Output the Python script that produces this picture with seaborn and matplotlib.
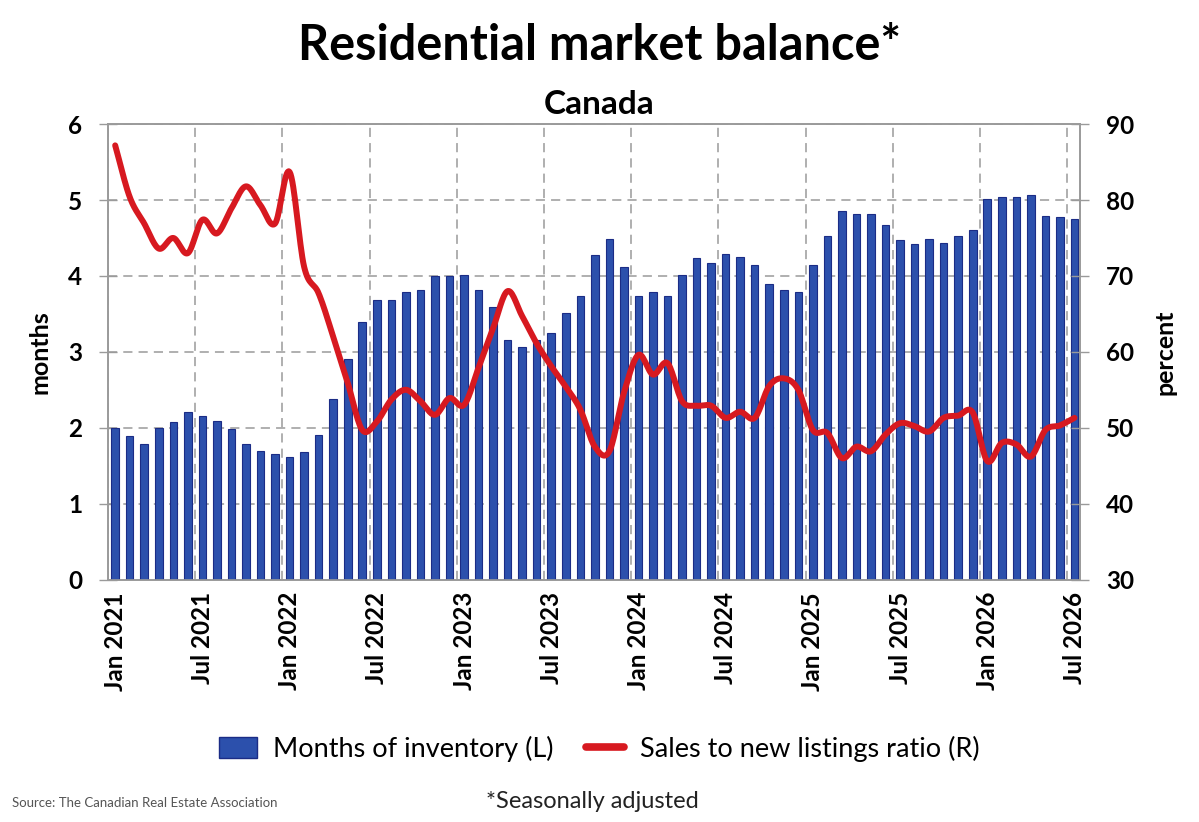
import numpy as np
import pandas as pd
import matplotlib
matplotlib.use('Agg')
import matplotlib.pyplot as plt
from matplotlib.patches import Patch
from matplotlib.lines import Line2D
import seaborn as sns

# Monthly data, Jan 2021 .. Jul 2026
months = pd.date_range('2021-01-01', '2026-07-01', freq='MS')
month_labels = [d.strftime('%b %Y') for d in months]

inventory = [2.00, 1.89, 1.79, 2.00, 2.08, 2.21, 2.16, 2.09, 1.98, 1.79, 1.69, 1.65,
             1.62, 1.68, 1.90, 2.38, 2.91, 3.39, 3.68, 3.68, 3.79, 3.82, 4.00, 4.00,
             4.01, 3.82, 3.59, 3.15, 3.06, 3.16, 3.25, 3.51, 3.74, 4.28, 4.49, 4.12,
             3.74, 3.79, 3.74, 4.01, 4.24, 4.17, 4.29, 4.25, 4.15, 3.90, 3.81, 3.79,
             4.14, 4.53, 4.86, 4.82, 4.81, 4.67, 4.47, 4.42, 4.48, 4.44, 4.52, 4.61,
             5.02, 5.04, 5.04, 5.07, 4.79, 4.77, 4.75]

snlr = [87.2, 80.4, 76.9, 73.6, 75.0, 73.0, 77.4, 75.6, 78.9, 81.8, 79.3, 76.9,
        83.7, 71.2, 67.7, 62.0, 55.9, 49.7, 50.8, 53.7, 55.0, 53.5, 51.7, 53.9,
        53.0, 57.9, 63.1, 68.0, 64.7, 61.1, 58.1, 55.4, 52.4, 47.5, 46.9, 54.6,
        59.6, 57.0, 58.5, 53.5, 52.9, 52.9, 51.3, 52.1, 51.3, 55.5, 56.5, 55.0,
        49.7, 49.3, 46.0, 47.5, 46.9, 49.1, 50.6, 50.2, 49.5, 51.3, 51.6, 52.0,
        45.6, 48.0, 47.8, 46.2, 49.7, 50.3, 51.3]

tick_idx = list(range(0, len(months), 6))
tick_labels = [month_labels[i] for i in tick_idx]

BAR_FILL = '#2C50AC'
BAR_EDGE = '#1B2C86'
LINE_RED = '#D71920'
GRID = '#9A9A9A'


def smooth_line(x, y, n=16):
    # Catmull-Rom curve through the points (like Excel's smoothed line)
    x = np.asarray(x, float)
    y = np.asarray(y, float)
    px = np.concatenate([[2 * x[0] - x[1]], x, [2 * x[-1] - x[-2]]])
    py = np.concatenate([[2 * y[0] - y[1]], y, [2 * y[-1] - y[-2]]])
    xs, ys = [], []
    t = np.linspace(0, 1, n, endpoint=False)
    for i in range(1, len(px) - 2):
        for arr, out in ((px, xs), (py, ys)):
            p0, p1, p2, p3 = arr[i - 1], arr[i], arr[i + 1], arr[i + 2]
            out.extend(0.5 * (2 * p1 + (-p0 + p2) * t
                              + (2 * p0 - 5 * p1 + 4 * p2 - p3) * t ** 2
                              + (-p0 + 3 * p1 - 3 * p2 + p3) * t ** 3))
    xs.append(x[-1])
    ys.append(y[-1])
    return np.array(xs), np.array(ys)


sns.set_style('white')
plt.rcParams['font.family'] = ['Lato', 'DejaVu Sans']
plt.rcParams['text.color'] = 'black'
plt.rcParams['xtick.color'] = 'black'
plt.rcParams['ytick.color'] = 'black'
plt.rcParams['axes.labelcolor'] = 'black'

fig = plt.figure(figsize=(11.99, 8.22), dpi=100)
ax = fig.add_axes([0.090, 0.295, 0.811, 0.554])

df = pd.DataFrame({'month': month_labels, 'inventory': inventory})
sns.barplot(data=df, x='month', y='inventory', color=BAR_FILL, width=0.52,
            edgecolor=BAR_EDGE, linewidth=0.8, saturation=1, ax=ax, zorder=3)

ax2 = ax.twinx()
xs, ys = smooth_line(np.arange(len(snlr)), snlr)
ax2.plot(xs, ys, color=LINE_RED, lw=4.3, solid_capstyle='round', zorder=4)

ax.set_xlim(-0.5, 66.4)
ax.set_ylim(0, 6)
ax2.set_ylim(30, 90)
ax.set_yticks(range(0, 7))
ax2.set_yticks(range(30, 91, 10))

ax.set_xticks(tick_idx)
ax.set_xticklabels(tick_labels, rotation=90, fontsize=17.5, fontweight='bold')
ax.set_xticks([i - 0.5 for i in tick_idx], minor=True)
ax.tick_params(axis='x', which='major', length=0, pad=9)
ax.tick_params(axis='x', which='minor', length=6, color=GRID, width=1)
ax.tick_params(axis='y', direction='inout', length=13, color=GRID, width=1,
               labelsize=17.5, pad=12)
ax2.tick_params(axis='y', direction='inout', length=13, color=GRID, width=1,
                labelsize=17.5, pad=12)
for lab in ax.get_yticklabels() + ax2.get_yticklabels():
    lab.set_fontweight('bold')

ax.set_xlabel('')
ax.set_ylabel('months', fontsize=18, fontweight='bold', labelpad=12)
ax2.set_ylabel('percent', fontsize=18, fontweight='bold', labelpad=14)

ax.grid(False)
ax.grid(axis='y', which='major', color=GRID, linestyle=(0, (6, 4)), lw=1.1, zorder=0)
ax.grid(axis='x', which='minor', color=GRID, linestyle=(0, (6, 4)), lw=1.1, zorder=0)
ax.set_axisbelow(True)
for a in (ax, ax2):
    for s in a.spines.values():
        s.set_color(GRID)
        s.set_linewidth(1.2)

ax.set_zorder(ax2.get_zorder() - 1)
ax.patch.set_visible(True)
ax2.patch.set_visible(False)

fig.text(0.5, 0.945, 'Residential market balance*', ha='center', va='center',
         fontsize=35, fontweight='bold')
fig.text(0.5, 0.873, 'Canada', ha='center', va='center',
         fontsize=24, fontweight='bold')

handles = [Patch(facecolor=BAR_FILL, edgecolor=BAR_EDGE, lw=1),
           Line2D([0], [0], color=LINE_RED, lw=5.5)]
fig.legend(handles, ['Months of inventory (L)', 'Sales to new listings ratio (R)'],
           loc='center', bbox_to_anchor=(0.5, 0.089), ncol=2, frameon=False,
           fontsize=19.5, handlelength=1.4, handleheight=0.8, columnspacing=1.2,
           handletextpad=0.6)

fig.text(0.01, 0.023, 'Source: The Canadian Real Estate Association', ha='left',
         va='center', fontsize=9.5, color='#555555')
fig.text(0.494, 0.025, '*Seasonally adjusted', ha='center', va='center',
         fontsize=17, color='#222222')

fig.savefig('out.png', dpi=100)
